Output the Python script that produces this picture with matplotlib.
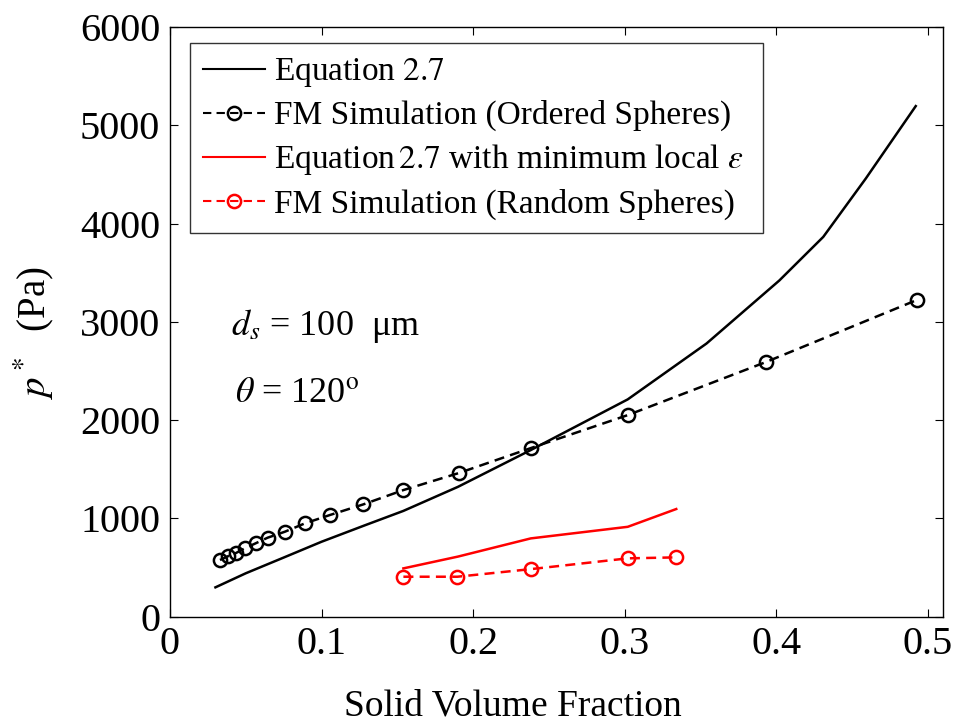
import matplotlib
matplotlib.use("Agg")
import matplotlib.pyplot as plt

plt.rcParams["font.family"] = ["Liberation Serif", "DejaVu Serif"]
plt.rcParams["mathtext.fontset"] = "stix"

# Equation 2.7 (ordered spheres)
eq_x = [0.030, 0.05, 0.075, 0.1, 0.128, 0.154, 0.19, 0.238, 0.302, 0.354, 0.402, 0.431, 0.459, 0.492]
eq_y = [297, 440, 600, 761, 925, 1075, 1320, 1694, 2210, 2779, 3420, 3864, 4457, 5195]

# FM simulation (ordered spheres)
ord_x = [0.033, 0.0385, 0.0435, 0.0494, 0.0565, 0.0644, 0.0758, 0.089, 0.1055, 0.1275,
         0.154, 0.1905, 0.238, 0.302, 0.393, 0.4925]
ord_y = [575, 615, 646, 694, 745, 802, 863, 948, 1033, 1141,
         1287, 1460, 1714, 2050, 2589, 3220]

# Equation 2.7 with minimum local porosity
eqmin_x = [0.154, 0.19, 0.238, 0.302, 0.334]
eqmin_y = [490, 610, 795, 913, 1094]

# FM simulation (random spheres)
rnd_x = [0.154, 0.1896, 0.2384, 0.302, 0.334]
rnd_y = [405, 405, 483, 592, 602]

fig = plt.figure(figsize=(9.57, 7.26), dpi=100)
ax = fig.add_axes([0.1776, 0.1508, 0.8078, 0.812])

lw = 1.8
ax.plot(eq_x, eq_y, color="black", lw=lw, label=r"Equation $2.7$")
ax.plot(ord_x, ord_y, color="black", lw=lw, ls="--", dashes=(4, 2.5), marker="o",
        mfc="none", ms=9.5, mew=1.8, label="FM Simulation (Ordered Spheres)")
ax.plot(eqmin_x, eqmin_y, color="red", lw=lw,
        label=r"Equation$\,2.7$ with minimum local $\varepsilon$")
ax.plot(rnd_x, rnd_y, color="red", lw=lw, ls="--", dashes=(4, 2.5), marker="o",
        mfc="none", ms=9.5, mew=1.8, label="FM Simulation (Random Spheres)")

ax.set_xlim(0, 0.51)
ax.set_ylim(0, 6000)
ax.set_xticks([0, 0.1, 0.2, 0.3, 0.4, 0.5])
ax.set_xticklabels(["0", "0.1", "0.2", "0.3", "0.4", "0.5"])
ax.set_yticks([0, 1000, 2000, 3000, 4000, 5000, 6000])
ax.tick_params(direction="in", top=True, right=True, labelsize=29, length=6, width=0.8, pad=7)
for sp in ax.spines.values():
    sp.set_linewidth(1.0)

ax.set_xlabel("Solid Volume Fraction", fontsize=27)
ax.xaxis.set_label_coords(0.443, -0.123)
ax.set_ylabel(r"$p^*$  (Pa)", fontsize=28)
ax.yaxis.set_label_coords(-0.147, 0.481)

ax.text(0.1648, 2864, r"$d_s$ = 100  μm", fontsize=26, va="baseline", ha="right")
ax.text(0.1252, 2180, r"$\theta$ = 120$^\mathrm{o}$", fontsize=26, va="baseline", ha="right")

# legend box spans roughly x 190..763 px, y 43..235 px of the figure
leg = ax.legend(loc="upper left", bbox_to_anchor=(0.026, 0.0, 0.741, 0.973), mode="expand",
                fontsize=24, frameon=True, fancybox=False, edgecolor="black",
                handlelength=1.85, handletextpad=0.27, labelspacing=0.33, borderpad=0.4,
                borderaxespad=0)
leg.get_frame().set_linewidth(1.0)
for line in leg.get_lines():
    line.set_linewidth(1.5)

fig.savefig("out.png", dpi=100)
